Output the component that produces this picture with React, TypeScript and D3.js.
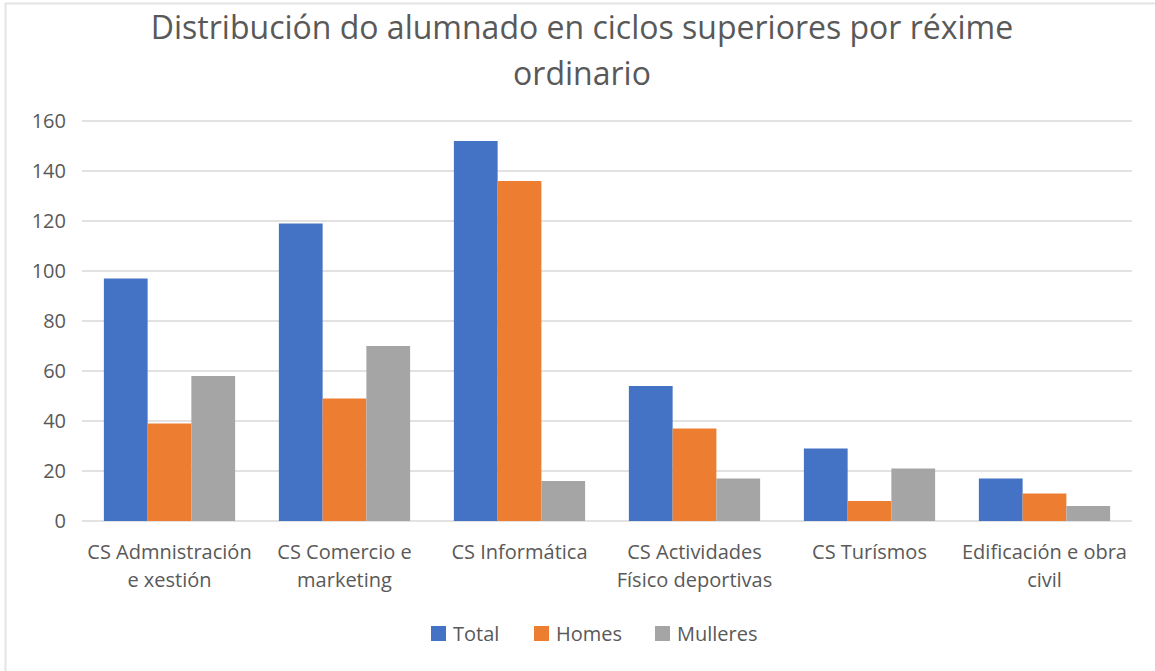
import React from 'react'
import * as d3 from 'd3'

const categories = [
  'CS Admnistración e xestión',
  'CS Comercio e marketing',
  'CS Informática',
  'CS Actividades Físico deportivas',
  'CS Turísmos',
  'Edificación e obra civil'
]
// how the axis wraps each category label
const categoryLines = [
  ['CS Admnistración', 'e xestión'],
  ['CS Comercio e', 'marketing'],
  ['CS Informática'],
  ['CS Actividades', 'Físico deportivas'],
  ['CS Turísmos'],
  ['Edificación e obra', 'civil']
]
const seriesNames = ['Total', 'Homes', 'Mulleres']
const total = [97, 119, 152, 54, 29, 17]
const homes = [39, 49, 136, 37, 8, 11]
const mulleres = [58, 70, 16, 17, 21, 6]
const yTicks = [0, 20, 40, 60, 80, 100, 120, 140, 160]
const titleLines = ['Distribución do alumnado en ciclos superiores por réxime', 'ordinario']

const colors = ['#4472C4', '#ED7D31', '#A5A5A5']
const textColor = '#595959'
const font = "'Open Sans', sans-serif"

const W = 1155
const H = 671

export default function App () {
  const series = [total, homes, mulleres]

  const x = d3.scaleBand().domain(categories).range([82, 1132])
  const barW = x.bandwidth() / 4
  const xs = d3.scaleBand().domain(seriesNames).range([barW / 2, x.bandwidth() - barW / 2])
  const y = d3.scaleLinear().domain([0, 160]).range([521, 121])

  const legendX = [431, 534, 655]

  return (
    <svg width={W} height={H} style={{ position: 'absolute', left: 0, top: 0, background: '#fff' }}>
      <rect x={5.5} y={3.5} width={W + 10} height={H + 10} fill='#fff' stroke='#e4e4e4' strokeWidth={2} />

      {titleLines.map((t, i) => (
        <text key={t} x={582} y={39 + i * 46} textAnchor='middle' fontFamily={font}
          fontSize={32} fill={textColor}>{t}</text>
      ))}

      {yTicks.map(t => (
        <g key={t}>
          <line x1={82} x2={1132} y1={y(t)} y2={y(t)} stroke='#d9d9d9' strokeWidth={1.5} />
          <text x={66} y={y(t)} dy='0.35em' textAnchor='end' fontFamily={font}
            fontSize={20} fill={textColor}>{t}</text>
        </g>
      ))}

      {series.map((vals, s) => (
        <g key={seriesNames[s]} fill={colors[s]}>
          {vals.map((v, i) => (
            <rect key={i} x={(x(categories[i]) ?? 0) + (xs(seriesNames[s]) ?? 0)} y={y(v)}
              width={xs.bandwidth()} height={y(0) - y(v)} />
          ))}
        </g>
      ))}

      {categories.map((c, i) => (
        <text key={c} textAnchor='middle' fontFamily={font} fontSize={20} fill={textColor}>
          {categoryLines[i].map((l, j) => (
            <tspan key={j} x={(x(c) ?? 0) + x.bandwidth() / 2} y={559 + j * 28}>{l}</tspan>
          ))}
        </text>
      ))}

      {seriesNames.map((n, s) => (
        <g key={n}>
          <rect x={legendX[s]} y={626} width={15} height={15} fill={colors[s]} />
          <text x={legendX[s] + 22} y={634} dy='0.35em' fontFamily={font}
            fontSize={20} fill={textColor}>{n}</text>
        </g>
      ))}
    </svg>
  )
}
